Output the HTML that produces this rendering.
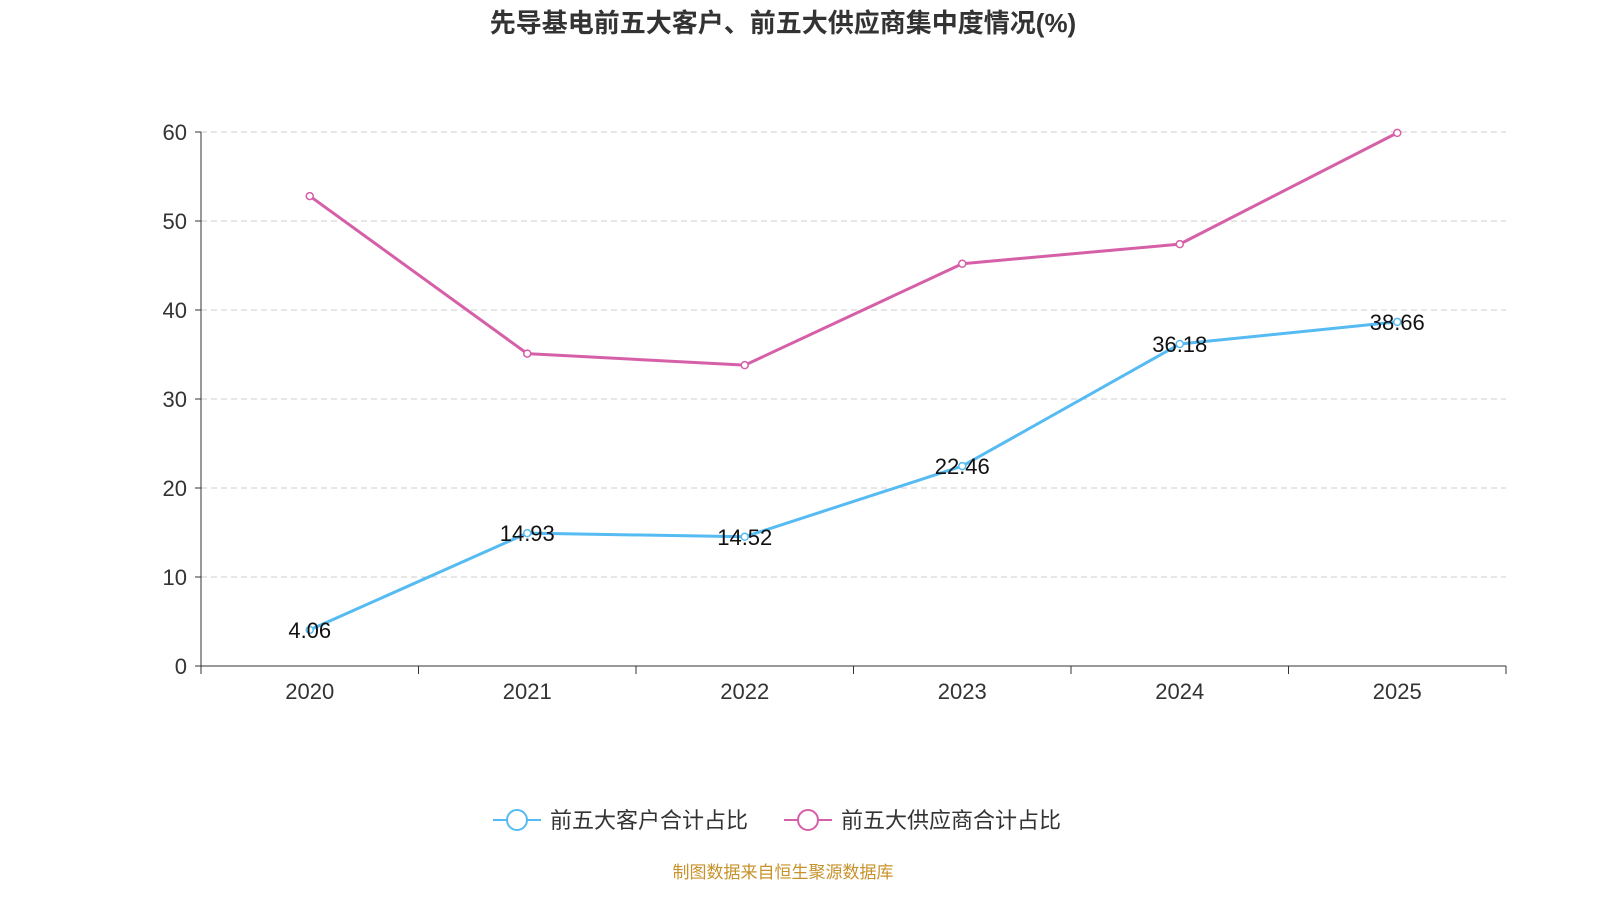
<!DOCTYPE html>
<html><head><meta charset="utf-8">
<style>
body{margin:0;background:#fff;}
svg{display:block;font-family:"Liberation Sans","Noto Sans CJK SC",sans-serif;}
</style></head>
<body>
<svg id="c" width="1600" height="900">
<text x="783" y="32" text-anchor="middle" font-size="26" font-weight="bold" fill="#333">先导基电前五大客户、前五大供应商集中度情况(%)</text>
<g id="grid"></g><g id="axes"></g><g id="series"></g>
<g>
<g>
<line x1="493" y1="820" x2="541" y2="820" stroke="#55bbf2" stroke-width="2"/>
<circle cx="517" cy="820" r="10" fill="#fff" stroke="#55bbf2" stroke-width="2"/>
<text x="550" y="828" font-size="22" fill="#333">前五大客户合计占比</text></g>
<g>
<line x1="784" y1="820" x2="832" y2="820" stroke="#d660a8" stroke-width="2"/>
<circle cx="808" cy="820" r="10" fill="#fff" stroke="#d660a8" stroke-width="2"/>
<text x="841" y="828" font-size="22" fill="#333">前五大供应商合计占比</text></g>
</g>
<text x="783" y="878" text-anchor="middle" font-size="17" fill="#c8922a">制图数据来自恒生聚源数据库</text>
</svg>
<script>
const categories=["2020","2021","2022","2023","2024","2025"];
const customers=[4.06,14.93,14.52,22.46,36.18,38.66];
const suppliers=[52.8,35.1,33.8,45.2,47.4,59.9];
const yTicks=[0,10,20,30,40,50,60];
const NS="http://www.w3.org/2000/svg";
const L=201,R=1506,T=132,B=666,YMAX=60;
const bw=(R-L)/categories.length;
const xs=i=>L+bw*(i+0.5);
const ys=v=>B-(v/YMAX)*(B-T);
function mk(tag,attrs,parent){const e=document.createElementNS(NS,tag);for(const k in attrs)e.setAttribute(k,attrs[k]);document.getElementById(parent).appendChild(e);return e;}
yTicks.forEach(t=>{
  if(t>0){const g=mk('line',{x1:L,x2:R,y1:ys(t),y2:ys(t),stroke:'#ccc','stroke-dasharray':'6,4'},'grid');
  
  }
  const tk=mk('line',{x1:L-6,x2:L,y1:ys(t),y2:ys(t),stroke:'#333'},'axes');
  
  
  const tx=mk('text',{x:L-14,y:ys(t)+8,'text-anchor':'end','font-size':'22',fill:'#333'},'axes');tx.textContent=t;
  
  
});
const ya=mk('line',{x1:L,x2:L,y1:T,y2:B,stroke:'#333'},'axes');


const xa=mk('line',{x1:L,x2:R,y1:B,y2:B,stroke:'#333'},'axes');


for(let i=0;i<=categories.length;i++){const t=mk('line',{x1:L+bw*i,x2:L+bw*i,y1:B,y2:B+8,stroke:'#333'},'axes');
  
  }
categories.forEach((c,i)=>{const t=mk('text',{x:xs(i),y:B+33,'text-anchor':'middle','font-size':'22',fill:'#333'},'axes');t.textContent=c;
  
  });
function series(vals,color,name,labels){
  const p=mk('polyline',{points:vals.map((v,i)=>xs(i)+','+ys(v)).join(' '),fill:'none',stroke:color,'stroke-width':3,'stroke-linejoin':'round'},'series');
  
  
  vals.forEach((v,i)=>{const c=mk('circle',{cx:xs(i),cy:ys(v),r:3.5,fill:'#fff',stroke:color,'stroke-width':1.5},'series');
    
    
    if(labels){const t=mk('text',{x:xs(i),y:ys(v)+8,'text-anchor':'middle','font-size':'22',fill:'#111'},'series');t.textContent=v.toFixed(2);
      
      }
  });
}
series(suppliers,'#d660a8','suppliers',false);
series(customers,'#55bbf2','customers',true);
</script>
</body></html>
